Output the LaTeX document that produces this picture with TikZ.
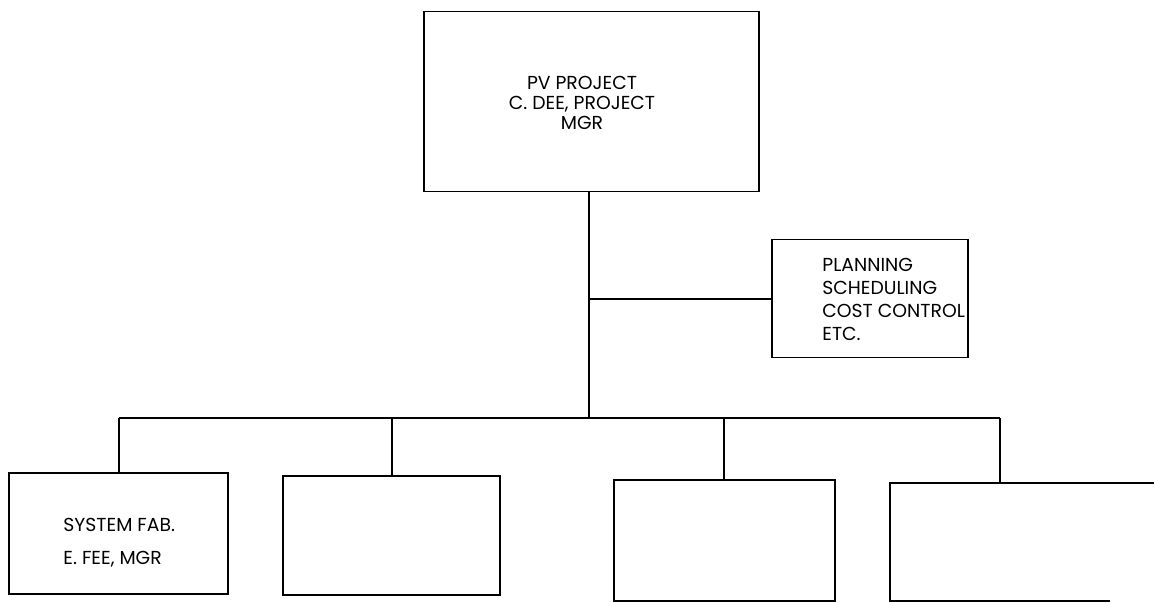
\documentclass[tikz,border=0pt]{standalone}
\usepackage{fontspec}
\setmainfont{Poppins}
\begin{document}
\begin{tikzpicture}[x=0.5pt,y=-0.5pt,
  box/.style={draw, line width=0.75pt, rectangle, inner sep=0pt, anchor=north west},
  link/.style={line width=1pt},
  lbl/.style={inner sep=0pt, font=\fontsize{9.4}{10}\selectfont}]
\useasboundingbox (0,0) rectangle (1154,603);
% boxes
\node[box, minimum width=167.5pt, minimum height=90pt] (top) at (423,11) {};
\node[box, minimum width=98pt, minimum height=59pt] (plan) at (771,239) {};
\node[box, minimum width=109.5pt, minimum height=60.5pt] (b1) at (8,472) {};
\node[box, minimum width=108.5pt, minimum height=59.5pt] (b2) at (282,475) {};
\node[box, minimum width=110.5pt, minimum height=60.5pt] (b3) at (613,479) {};
\coordinate (b4tr) at (1154,483);
\coordinate (b4tl) at (890,483);
\coordinate (b4bl) at (890,601);
\coordinate (b4br) at (1110,601);
\coordinate (b4top) at (1000,483);
\draw[line width=0.75pt] (b4tr) -- (b4tl) -- (b4bl) -- (b4br);
% texts
\node[lbl, align=center] (toptxt) at (582,103) {PV PROJECT\\C. DEE, PROJECT\\MGR};
\node[lbl, align=left, anchor=west, font=\fontsize{9.4}{11.5}\selectfont] (plantxt) at (822,299) {PLANNING\\SCHEDULING\\COST CONTROL\\ETC.};
\node[lbl, align=left, anchor=west, font=\fontsize{9.4}{16.5}\selectfont] (b1txt) at (63,543) {SYSTEM FAB.\\E. FEE, MGR};
% connectors
\coordinate (bus) at (589,418);
\coordinate (busL) at (119,418);
\coordinate (busR) at (1000,418);
\draw[link] (top.south -| bus) -- (bus);
\draw[link] (bus |- plan.west) -- (plan.west);
\draw[link] (busL) -- (busR);
\draw[link] (busL) -- (b1.north -| busL);
\draw[link] (392,418) -- (b2.north -| 392,0);
\draw[link] (724,418) -- (b3.north -| 724,0);
\draw[link] (busR) -- (b4top);
\end{tikzpicture}
\end{document}
